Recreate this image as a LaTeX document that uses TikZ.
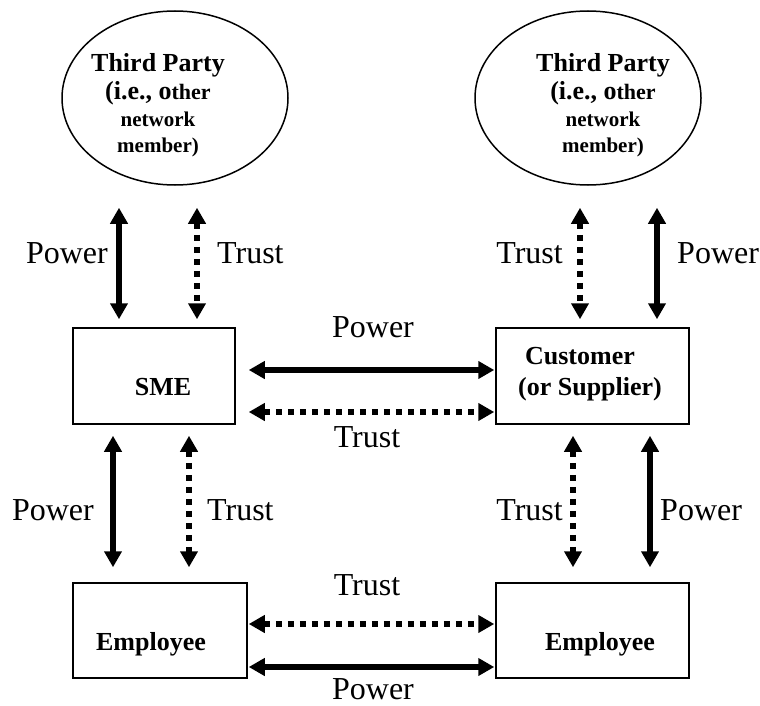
\documentclass[tikz,border=0pt]{standalone}
\usepackage{fontspec}
\setmainfont{Liberation Serif}
\usetikzlibrary{arrows.meta,shapes.geometric}
\tikzset{
  party/.style={draw, ellipse, line width=1.5pt, minimum width=226pt, minimum height=174pt, inner sep=0pt},
  actor/.style={draw, rectangle, line width=1.5pt, inner sep=0pt},
  boxtxt/.style={font=\fontsize{26}{30}\selectfont\bfseries, anchor=base, inner sep=0pt},
  lbl/.style={font=\fontsize{32}{36}\selectfont, inner sep=0pt},
  pw/.style={line width=5.5pt, {Triangle[length=16pt, width=17pt]}-{Triangle[length=16pt, width=17pt]}},
  tr/.style={line width=5.5pt, dash pattern=on 6pt off 6pt, {Triangle[length=16pt, width=17pt]}-{Triangle[length=16pt, width=17pt]}},
}
\newcommand{\tpline}[1]{\fontsize{21}{24}\selectfont #1}
\begin{document}
\begin{tikzpicture}[x=1pt,y=-1pt]
\useasboundingbox (0,0) rectangle (760,706);

% third parties
\node[party] (tpL) at (175,98) {};
\node[party] (tpR) at (588,98) {};
\foreach \n/\cx in {L/158,R/603}{
  \node[boxtxt] (tpA\n) at (\cx,72) {Third Party};
  \node[anchor=base, inner sep=0pt, font=\bfseries] (tpB\n) at (\cx,100) {\fontsize{26}{30}\selectfont(i.e., o\fontsize{22}{26}\selectfont ther};
  \node[anchor=base, inner sep=0pt, font=\bfseries] (tpC\n) at (\cx,127) {\tpline{network}};
  \node[anchor=base, inner sep=0pt, font=\bfseries] (tpD\n) at (\cx,152) {\tpline{member)}};
}

% boxes
\node[actor, minimum width=162pt, minimum height=96pt] (sme) at (154,376) {};
\node[actor, minimum width=193pt, minimum height=96pt] (cust) at (592.5,376) {};
\node[actor, minimum width=174pt, minimum height=95pt] (empL) at (160,630.5) {};
\node[actor, minimum width=193pt, minimum height=95pt] (empR) at (592.5,630.5) {};

\node[boxtxt] (smeT) at (163,395) {SME};
\node[boxtxt] (custT1) at (580,364) {Customer};
\node[boxtxt] (custT2) at (590,395) {(or Supplier)};
\node[boxtxt] (empLT) at (151,650) {Employee};
\node[boxtxt] (empRT) at (600,650) {Employee};

% x positions of vertical connectors
\coordinate (xa) at (119,0);
\coordinate (xb) at (197,0);
\coordinate (xc) at (580,0);
\coordinate (xd) at (657,0);
\coordinate (xe) at (113,0);
\coordinate (xf) at (189,0);
\coordinate (xg) at (573,0);
\coordinate (xh) at (650,0);

% top vertical connectors
\draw[pw, shorten <=22pt, shorten >=8pt] (tpL.south -| xa) -- (sme.north -| xa);
\draw[tr, shorten <=22pt, shorten >=8pt] (tpL.south -| xb) -- (sme.north -| xb);
\draw[tr, shorten <=22pt, shorten >=8pt] (tpR.south -| xc) -- (cust.north -| xc);
\draw[pw, shorten <=22pt, shorten >=8pt] (tpR.south -| xd) -- (cust.north -| xd);

% bottom vertical connectors
\draw[pw, shorten <=11pt, shorten >=15pt] (sme.south -| xe) -- (empL.north -| xe);
\draw[tr, shorten <=11pt, shorten >=15pt] (sme.south -| xf) -- (empL.north -| xf);
\draw[tr, shorten <=11pt, shorten >=15pt] (cust.south -| xg) -- (empR.north -| xg);
\draw[pw, shorten <=11pt, shorten >=15pt] (cust.south -| xh) -- (empR.north -| xh);

% horizontal connectors
\coordinate (ya) at (0,370);
\coordinate (yb) at (0,412);
\coordinate (yc) at (0,624);
\coordinate (yd) at (0,667);
\draw[pw, shorten <=13pt, shorten >=1pt] (sme.east |- ya) -- (cust.west |- ya);
\draw[tr, shorten <=13pt, shorten >=1pt] (sme.east |- yb) -- (cust.west |- yb);
\draw[tr, shorten <=1pt, shorten >=1pt] (empL.east |- yc) -- (empR.west |- yc);
\draw[pw, shorten <=1pt, shorten >=1pt] (empL.east |- yd) -- (empR.west |- yd);

% labels
\node[lbl, anchor=base east] (l1) at (108,263) {Power};
\node[lbl, anchor=base west] (l2) at (217,263) {Trust};
\node[lbl, anchor=base east] (l3) at (563,263) {Trust};
\node[lbl, anchor=base west] (l4) at (677,263) {Power};
\node[lbl, anchor=base east] (l5) at (94,520) {Power};
\node[lbl, anchor=base west] (l6) at (207,520) {Trust};
\node[lbl, anchor=base east] (l7) at (563,520) {Trust};
\node[lbl, anchor=base west] (l8) at (660,520) {Power};
\node[lbl, anchor=base] (l9) at (373,337) {Power};
\node[lbl, anchor=base] (l10) at (367,447) {Trust};
\node[lbl, anchor=base] (l11) at (367,595) {Trust};
\node[lbl, anchor=base] (l12) at (373,699) {Power};
\end{tikzpicture}
\end{document}
